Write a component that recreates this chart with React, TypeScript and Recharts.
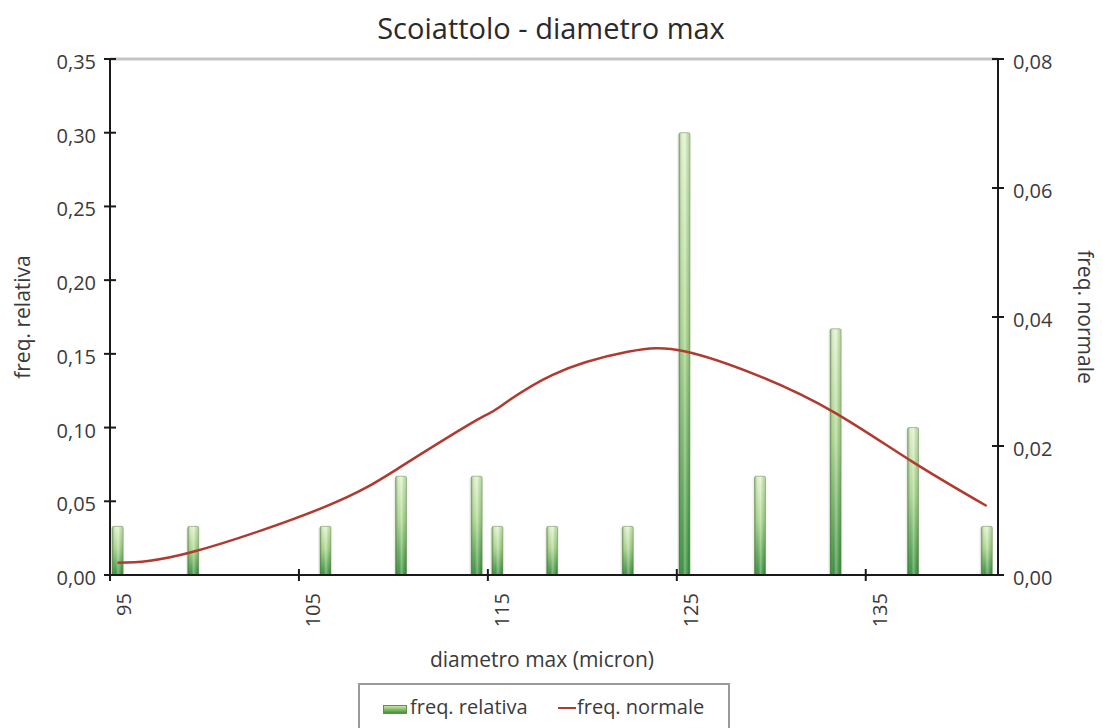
import React from "react"
import { ComposedChart, Bar, Line, XAxis, YAxis, ReferenceLine, Label } from "recharts"

// diametro max (micron) – centre of each bar
const diametri = [95.4, 99.4, 106.4, 110.4, 114.4, 115.5, 118.4, 122.4, 125.4, 129.4, 133.4, 137.5, 141.4]
const freqRelativa = [0.033, 0.033, 0.033, 0.067, 0.067, 0.033, 0.033, 0.033, 0.3, 0.067, 0.167, 0.1, 0.033]
const freqNormale = [0.0019, 0.0036, 0.0106, 0.0168, 0.024, 0.0258, 0.031, 0.0346, 0.0347, 0.0308, 0.0251, 0.0175, 0.0107]

const xTicks = [95, 105, 115, 125, 135]
const leftTicks = [0, 0.05, 0.1, 0.15, 0.2, 0.25, 0.3, 0.35]
const rightTicks = [0, 0.02, 0.04, 0.06, 0.08]

const data = diametri.map((d, i) => ({ x: d, relativa: freqRelativa[i], normale: freqNormale[i] }))

const FONT = "'Open Sans', 'Noto Sans', sans-serif"
const TEXT = "#3a3a3a"
const AXIS = "#1a1a1a"
const RED = "#b13a30"

const fmt = (v: number) => v.toFixed(2).replace(".", ",")

const LeftTick = ({ x, y, payload }: any) => (
  <g>
    <line x1={x - 6} x2={x + 6} y1={y} y2={y} stroke={AXIS} strokeWidth={2} />
    <text x={x - 14} y={y} dy={10} textAnchor="end" fontSize={20} fontFamily={FONT} fill={TEXT}>
      {fmt(payload.value)}
    </text>
  </g>
)

const RightTick = ({ x, y, payload }: any) => (
  <g>
    <line x1={x - 6} x2={x + 6} y1={y} y2={y} stroke={AXIS} strokeWidth={2} />
    <text x={x + 15} y={y} dy={10} textAnchor="start" fontSize={20} fontFamily={FONT} fill={TEXT}>
      {fmt(payload.value)}
    </text>
  </g>
)

const BottomTick = ({ x, y, payload }: any) => (
  <g>
    <line x1={x} x2={x} y1={y - 6} y2={y + 6} stroke={AXIS} strokeWidth={2} />
    <text
      transform={`translate(${x + 21},${y + 18}) rotate(-90)`}
      textAnchor="end"
      fontSize={20}
      fontFamily={FONT}
      fill={TEXT}
    >
      {payload.value}
    </text>
  </g>
)

const BarShape = ({ x, y, width, height }: any) => {
  if (!height || height <= 0) return null
  return (
    <g>
      <rect x={x - 2} y={y + 2} width={width + 2} height={height - 2} fill="#000" opacity={0.06} />
      <rect x={x} y={y} width={width} height={height} rx={1.5} fill="url(#barVert)" />
      <rect x={x} y={y} width={width} height={height} rx={1.5} fill="url(#barHoriz)" />
      <rect x={x} y={y} width={width} height={height} rx={1.5} fill="none" stroke="#6f8f5a" strokeWidth={0.8} opacity={0.7} />
    </g>
  )
}

export default function App() {
  return (
    <div style={{ position: "absolute", left: 0, top: 0, width: 1102, height: 728, background: "#fff", overflow: "hidden", fontFamily: FONT }}>
      <div style={{ position: "absolute", left: 0, width: 1102, top: 10, textAlign: "center", fontSize: 29, color: "#2a2a2a", lineHeight: "36px" }}>
        Scoiattolo - diametro max
      </div>

      <ComposedChart width={1102} height={728} data={data} margin={{ top: 59, right: 4, left: 10, bottom: 53 }}>
        <defs>
          <linearGradient id="barVert" x1="0" y1="0" x2="0" y2="1">
            <stop offset="0%" stopColor="#dcefc6" />
            <stop offset="45%" stopColor="#a3d183" />
            <stop offset="100%" stopColor="#1f8226" />
          </linearGradient>
          <linearGradient id="barHoriz" x1="0" y1="0" x2="1" y2="0">
            <stop offset="0%" stopColor="#2f5f22" stopOpacity={0.55} />
            <stop offset="30%" stopColor="#ffffff" stopOpacity={0.1} />
            <stop offset="55%" stopColor="#ffffff" stopOpacity={0.4} />
            <stop offset="100%" stopColor="#3d7a2c" stopOpacity={0.25} />
          </linearGradient>
        </defs>

        <XAxis
          dataKey="x"
          type="number"
          domain={[95, 142]}
          ticks={xTicks}
          allowDataOverflow
          height={100}
          tickSize={0}
          tickMargin={0}
          tickLine={false}
          tick={<BottomTick />}
          axisLine={{ stroke: AXIS, strokeWidth: 2 }}
        >
          <Label
            content={({ viewBox }: any) => (
              <text x={viewBox.x + viewBox.width / 2 - 12} y={viewBox.y + 92} textAnchor="middle" fontSize={21} fontFamily={FONT} fill={TEXT}>
                diametro max (micron)
              </text>
            )}
          />
        </XAxis>

        <YAxis
          yAxisId="left"
          orientation="left"
          width={100}
          domain={[0, 0.35]}
          ticks={leftTicks}
          allowDataOverflow
          tickSize={0}
          tickMargin={0}
          tickLine={false}
          tick={<LeftTick />}
          axisLine={{ stroke: AXIS, strokeWidth: 2 }}
        >
          <Label
            content={({ viewBox }: any) => {
              const cx = viewBox.x + 20
              const cy = viewBox.y + viewBox.height / 2
              return (
                <text transform={`translate(${cx},${cy}) rotate(-90)`} textAnchor="middle" fontSize={21} fontFamily={FONT} fill={TEXT}>
                  freq. relativa
                </text>
              )
            }}
          />
        </YAxis>

        <YAxis
          yAxisId="right"
          orientation="right"
          width={100}
          domain={[0, 0.08]}
          ticks={rightTicks}
          allowDataOverflow
          tickSize={0}
          tickMargin={0}
          tickLine={false}
          tick={<RightTick />}
          axisLine={{ stroke: AXIS, strokeWidth: 2 }}
        >
          <Label
            content={({ viewBox }: any) => {
              const cx = viewBox.x + 80
              const cy = viewBox.y + viewBox.height / 2
              return (
                <text transform={`translate(${cx},${cy}) rotate(90)`} textAnchor="middle" fontSize={21} fontFamily={FONT} fill={TEXT}>
                  freq. normale
                </text>
              )
            }}
          />
        </YAxis>

        <ReferenceLine yAxisId="left" y={0.35} stroke="#c4c4c4" strokeWidth={3} />

        <Bar yAxisId="left" dataKey="relativa" barSize={11} shape={<BarShape />} isAnimationActive={false} />
        <Line
          yAxisId="right"
          type="natural"
          dataKey="normale"
          stroke={RED}
          strokeWidth={2.5}
          dot={false}
          activeDot={false}
          isAnimationActive={false}
        />
      </ComposedChart>

      <div
        style={{
          position: "absolute",
          left: 358,
          top: 683,
          width: 372,
          height: 60,
          border: "2px solid #9a9a9a",
          boxSizing: "border-box",
          background: "#fff",
          fontSize: 20,
          lineHeight: "24px",
          color: TEXT,
          whiteSpace: "nowrap",
        }}
      >
        <span style={{ position: "absolute", left: 23, top: 20, width: 22, height: 7, background: "linear-gradient(#c8e6a8, #3f9434)", border: "1px solid #5f8f4a" }} />
        <span style={{ position: "absolute", left: 50, top: 10 }}>freq. relativa</span>
        <span style={{ position: "absolute", left: 198, top: 22, width: 18, height: 0, borderTop: `2.5px solid ${RED}` }} />
        <span style={{ position: "absolute", left: 217, top: 10 }}>freq. normale</span>
      </div>
    </div>
  )
}
